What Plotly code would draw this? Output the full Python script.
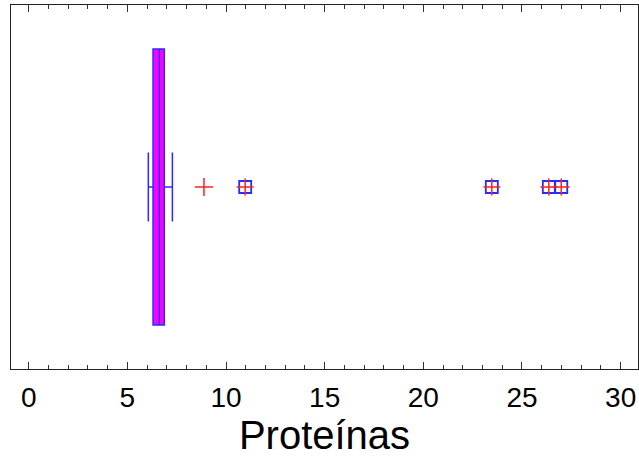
import plotly.graph_objects as go

# Box statistics (Proteínas)
q1 = [6.30]
median = [6.62]
q3 = [6.87]
lower_whisker = [6.06]
upper_whisker = [7.28]

# Outside points (red plus) and far-outside points (square with plus)
outside_pts = [8.88]
far_outside_pts = [10.97, 23.47, 26.36, 26.99]

tick_vals = [0, 5, 10, 15, 20, 25, 30]
tick_text = ["0", "5", "10", "15", "20", "25", "30"]
axis_title = "Proteínas"

BLUE = "#2a2aff"
RED = "#ff2020"

fig = go.Figure()
fig.add_trace(go.Box(
    y=[0], q1=q1, median=median, q3=q3,
    lowerfence=lower_whisker, upperfence=upper_whisker,
    orientation="h", boxpoints=False,
    fillcolor="#ff00ff",
    line=dict(color=BLUE, width=1.5),
    width=0.758, whiskerwidth=0.25,
    showlegend=False, hoverinfo="skip",
))
fig.add_trace(go.Scatter(
    x=outside_pts, y=[0] * len(outside_pts), mode="markers",
    marker=dict(symbol="cross-thin-open", size=13, color=RED, line=dict(color=RED, width=1.5)),
    showlegend=False,
))
fig.add_trace(go.Scatter(
    x=far_outside_pts, y=[0] * len(far_outside_pts), mode="markers",
    marker=dict(symbol="square-open", size=12, color=BLUE, line=dict(color=BLUE, width=1.8)),
    showlegend=False,
))
fig.add_trace(go.Scatter(
    x=far_outside_pts, y=[0] * len(far_outside_pts), mode="markers",
    marker=dict(symbol="cross-thin-open", size=12, color=RED, line=dict(color=RED, width=1.5)),
    showlegend=False,
))

fig.update_layout(
    width=639, height=467,
    margin=dict(l=11, r=1, t=5, b=98),
    paper_bgcolor="white", plot_bgcolor="white",
    font=dict(family="Liberation Sans, Arial, sans-serif", color="black"),
    xaxis=dict(
        range=[-0.9, 30.88],
        tickmode="array", tickvals=tick_vals, ticktext=tick_text,
        ticks="inside", ticklen=7, tickwidth=1, tickcolor="#333",
        minor=dict(dtick=1, ticks="inside", ticklen=4, tickcolor="#333"),
        showline=True, linecolor="#222", linewidth=1, mirror="allticks",
        showgrid=False, zeroline=False, automargin=False,
        tickfont=dict(size=28), ticklabelstandoff=3,
        title=dict(text=axis_title, font=dict(size=40), standoff=6),
    ),
    yaxis=dict(
        range=[-0.5, 0.5], showticklabels=False, ticks="",
        showline=True, linecolor="#222", linewidth=1, mirror=True,
        showgrid=False, zeroline=False, automargin=False,
    ),
)

fig.write_html("out.html", config={"displayModeBar": False},
               post_script="document.body.style.margin='0';")
